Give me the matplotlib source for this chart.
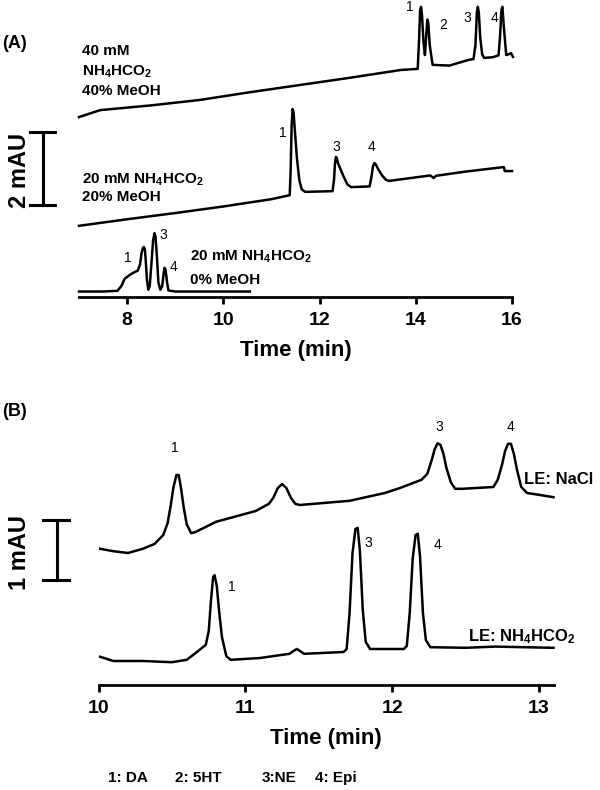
import matplotlib
matplotlib.use('Agg')
import matplotlib.pyplot as plt

plt.rcParams['font.family'] = ['Liberation Sans', 'DejaVu Sans']
plt.rcParams['mathtext.fontset'] = 'custom'
plt.rcParams['mathtext.rm'] = 'Liberation Sans:bold'
plt.rcParams['mathtext.default'] = 'rm'

# ---- panel A traces (time in min, signal in mAU incl. offset) ----
a_top_t = [7.0, 7.44, 8.5, 9.52, 10.5, 11.6, 12.6, 13.69, 14.04, 14.07, 14.09, 14.11, 14.13, 14.16,
           14.19, 14.22, 14.24, 14.26, 14.29, 14.35, 14.7, 15.08, 15.2, 15.24, 15.27, 15.29,
           15.31, 15.34, 15.38, 15.42, 15.6, 15.72, 15.75, 15.78, 15.80, 15.83, 15.88, 15.95,
           15.98, 16.02]
a_top_y = [4.93, 5.12, 5.25, 5.4, 5.6, 5.81, 6.0, 6.22, 6.25, 7.1, 7.85, 7.95, 7.7, 7.0,
           6.63, 7.2, 7.6, 7.5, 6.9, 6.36, 6.34, 6.49, 6.52, 6.9, 7.8, 7.95,
           7.8, 7.1, 6.65, 6.55, 6.57, 6.62, 7.1, 7.85, 7.95, 7.4, 6.63, 6.66,
           6.68, 6.58]

a_mid_t = [7.0, 8.0, 9.0, 10.0, 11.0, 11.38, 11.40, 11.42, 11.44, 11.46, 11.49, 11.53, 11.58,
           11.63, 11.7, 12.27, 12.3, 12.32, 12.34, 12.36, 12.38, 12.42, 12.5, 12.58, 12.66,
           13.04, 13.08, 13.11, 13.14, 13.17, 13.22, 13.3, 13.38, 13.44, 14.3, 14.37, 14.42,
           15.0, 15.83, 15.85, 16.0]
a_mid_y = [1.95, 2.13, 2.3, 2.48, 2.68, 2.79, 3.5, 4.7, 5.15, 5.05, 4.5, 3.8, 3.2,
           2.95, 2.88, 2.9, 3.2, 3.65, 3.84, 3.8, 3.68, 3.55, 3.3, 3.08, 3.01,
           3.03, 3.3, 3.58, 3.67, 3.63, 3.5, 3.33, 3.21, 3.18, 3.33, 3.26, 3.32,
           3.43, 3.56, 3.45, 3.45]

a_bot_t = [7.0, 7.5, 7.8, 7.88, 7.95, 8.05, 8.15, 8.22, 8.27, 8.3, 8.33, 8.35, 8.37, 8.39,
           8.41, 8.44, 8.47, 8.51, 8.54, 8.57, 8.59, 8.62, 8.65, 8.69, 8.73, 8.76, 8.78,
           8.80, 8.83, 8.86, 9.0, 10.55]
a_bot_y = [0.15, 0.15, 0.17, 0.3, 0.5, 0.6, 0.68, 0.72, 0.9, 1.2, 1.35, 1.37, 1.3, 0.95,
           0.5, 0.2, 0.3, 1.0, 1.55, 1.75, 1.65, 1.1, 0.4, 0.2, 0.3, 0.65, 0.8,
           0.75, 0.4, 0.18, 0.15, 0.15]

# ---- panel B traces ----
b_nacl_t = [10.01, 10.1, 10.2, 10.3, 10.38, 10.44, 10.47, 10.49, 10.51, 10.53, 10.545, 10.56,
            10.58, 10.60, 10.63, 10.66, 10.8, 11.07, 11.16, 11.19, 11.22, 11.25, 11.28, 11.31,
            11.34, 11.37, 11.71, 11.95, 12.05, 12.2, 12.24, 12.27, 12.29, 12.31, 12.33, 12.35,
            12.37, 12.40, 12.43, 12.48, 12.69, 12.72, 12.75, 12.77, 12.79, 12.81, 12.83, 12.85,
            12.88, 12.92, 13.0, 13.1]
b_nacl_y = [2.27, 2.23, 2.2, 2.27, 2.35, 2.5, 2.7, 2.98, 3.3, 3.5, 3.5, 3.3,
            2.95, 2.68, 2.53, 2.55, 2.72, 2.9, 3.02, 3.12, 3.28, 3.35, 3.28, 3.12,
            3.02, 3.0, 3.07, 3.2, 3.28, 3.42, 3.52, 3.75, 3.93, 4.03, 4.0, 3.85,
            3.62, 3.38, 3.27, 3.27, 3.3, 3.42, 3.68, 3.9, 4.02, 4.02, 3.85, 3.6,
            3.3, 3.2, 3.17, 3.13]

b_nh4_t = [10.01, 10.1, 10.3, 10.5, 10.6, 10.68, 10.73, 10.75, 10.765, 10.78, 10.79, 10.805,
           10.82, 10.84, 10.87, 10.9, 11.1, 11.3, 11.33, 11.35, 11.37, 11.4, 11.67, 11.69,
           11.71, 11.73, 11.75, 11.765, 11.78, 11.80, 11.82, 11.85, 12.08, 12.10, 12.12, 12.14,
           12.16, 12.175, 12.19, 12.21, 12.23, 12.26, 12.5, 12.7, 13.1]
b_nh4_y = [0.47, 0.4, 0.4, 0.38, 0.42, 0.57, 0.67, 0.9, 1.4, 1.8, 1.83, 1.65,
           1.25, 0.8, 0.48, 0.42, 0.45, 0.52, 0.57, 0.6, 0.57, 0.52, 0.55, 0.6,
           1.2, 2.2, 2.6, 2.62, 2.25, 1.25, 0.72, 0.6, 0.6, 0.65, 1.2, 2.1,
           2.5, 2.52, 2.15, 1.2, 0.75, 0.63, 0.62, 0.64, 0.62]

a_ticks = [8, 10, 12, 14, 16]
b_ticks = [10, 11, 12, 13]

fig = plt.figure(figsize=(6, 7.9), dpi=100)

def style(ax):
    for s in ['top', 'right', 'left']:
        ax.spines[s].set_visible(False)
    ax.spines['bottom'].set_linewidth(2.0)
    ax.set_yticks([])
    ax.tick_params(axis='x', direction='out', length=5, width=2, pad=6, labelsize=14)
    for lab in ax.get_xticklabels():
        lab.set_fontweight('bold')
    ax.patch.set_alpha(0)

# panel A
axA = fig.add_axes([79/600, 1-297/790, 433/600, 297/790])
axA.plot(a_top_t, a_top_y, color='black', lw=1.8, clip_on=False)
axA.plot(a_mid_t, a_mid_y, color='black', lw=1.8, clip_on=False)
axA.plot(a_bot_t, a_bot_y, color='black', lw=1.8, clip_on=False)
axA.set_xlim(7, 16)
axA.set_ylim(0, 297/36.5)
axA.set_xticks(a_ticks)
style(axA)
axA.set_xlabel('Time (min)', fontsize=16, fontweight='bold', labelpad=8)

# scale bar 2 mAU
axA.plot([6.25, 6.25], [2.52, 4.52], color='black', lw=2.2, clip_on=False)
axA.plot([5.98, 6.5], [2.52, 2.52], color='black', lw=2.2, clip_on=False)
axA.plot([5.98, 6.5], [4.52, 4.52], color='black', lw=2.2, clip_on=False)

bold = dict(fontsize=11, fontweight='bold', ha='left', va='center')
axA.text(7.06, 6.74, '40 mM', **bold)
axA.text(7.06, 6.17, 'NH$_4$HCO$_2$', **bold)
axA.text(7.06, 5.64, '40% MeOH', **bold)
axA.text(7.06, 3.21, '20 mM NH$_4$HCO$_2$', **bold)
axA.text(7.06, 2.74, '20% MeOH', **bold)
axA.text(9.31, 1.1, '20 mM NH$_4$HCO$_2$', **bold)
axA.text(9.31, 0.47, '0% MeOH', **bold)

pk = dict(fontsize=10, ha='center', va='center')
axA.text(13.88, 7.95, '1', **pk)
axA.text(14.56, 7.45, '2', **pk)
axA.text(15.08, 7.64, '3', **pk)
axA.text(15.63, 7.64, '4', **pk)
axA.text(11.23, 4.49, '1', **pk)
axA.text(12.35, 4.11, '3', **pk)
axA.text(13.08, 4.11, '4', **pk)
axA.text(8.02, 1.07, '1', **pk)
axA.text(8.75, 1.70, '3', **pk)
axA.text(8.96, 0.82, '4', **pk)

# panel B
axB = fig.add_axes([98.7/600, 1-685/790, 454.8/600, 265/790])
axB.plot(b_nacl_t, b_nacl_y, color='black', lw=1.8, clip_on=False)
axB.plot(b_nh4_t, b_nh4_y, color='black', lw=1.8, clip_on=False)
axB.set_xlim(10, 13.1)
axB.set_ylim(0, 265/60)
axB.set_xticks(b_ticks)
style(axB)
axB.set_xlabel('Time (min)', fontsize=16, fontweight='bold', labelpad=8)

# scale bar 1 mAU
axB.plot([9.716, 9.716], [1.75, 2.75], color='black', lw=2.2, clip_on=False)
axB.plot([9.62, 9.80], [1.75, 1.75], color='black', lw=2.2, clip_on=False)
axB.plot([9.62, 9.80], [2.75, 2.75], color='black', lw=2.2, clip_on=False)

axB.text(10.52, 3.95, '1', **pk)
axB.text(12.32, 4.3, '3', **pk)
axB.text(12.81, 4.3, '4', **pk)
axB.text(10.91, 1.63, '1', **pk)
axB.text(11.84, 2.37, '3', **pk)
axB.text(12.31, 2.33, '4', **pk)
axB.text(12.9, 3.42, 'LE: NaCl', fontsize=12, fontweight='bold', ha='left', va='center')
axB.text(12.52, 0.8, 'LE: NH$_4$HCO$_2$', fontsize=12, fontweight='bold', ha='left', va='center')

# figure-level labels
fig.text(2/600, 1-43/790, '(A)', fontsize=13, fontweight='bold', ha='left', va='center')
fig.text(2/600, 1-412/790, '(B)', fontsize=13, fontweight='bold', ha='left', va='center')
fig.text(19/600, 1-170/790, '2 mAU', fontsize=17, fontweight='bold', rotation=90, ha='center', va='center')
fig.text(19/600, 1-553/790, '1 mAU', fontsize=17, fontweight='bold', rotation=90, ha='center', va='center')

legend_items = ['1: DA', '2: 5HT', '3:NE', '4: Epi']
legend_x = [108, 175, 262, 315]
for lab, x in zip(legend_items, legend_x):
    fig.text(x/600, 1-778/790, lab, fontsize=11, fontweight='bold', ha='left', va='center')

fig.savefig('out.png', dpi=100)
